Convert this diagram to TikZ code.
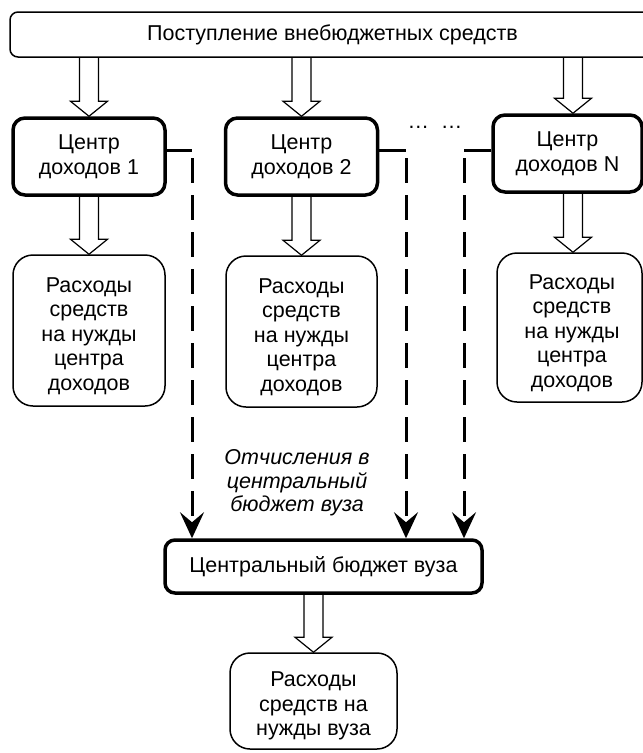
\documentclass[tikz,border=0pt]{standalone}
\usepackage{fontspec}
\setmainfont{Liberation Sans}
\usetikzlibrary{calc,arrows.meta}
\begin{document}
\begin{tikzpicture}[x=1pt,y=-1pt,
  txt/.style={font=\fontsize{21.5}{24.5}\selectfont, align=center, inner sep=0pt},
  topbox/.style={draw, line width=1.5pt, rounded corners=8pt, minimum width=645pt, minimum height=45pt, inner sep=0pt, txt},
  cbox/.style={draw, line width=3.5pt, rounded corners=12pt, minimum width=152pt, minimum height=77pt, inner sep=0pt, txt},
  ebox/.style={draw, line width=1.5pt, rounded corners=20pt, minimum width=152pt, minimum height=151pt, inner sep=0pt},
  bbox/.style={draw, line width=3.5pt, rounded corners=10pt, minimum width=317pt, minimum height=53pt, inner sep=0pt, txt},
  hollow/.style={line width=1.2pt, line join=miter, to path={
    let \p1=(\tikztostart), \p2=(\tikztotarget) in
    ({\x2-9.5pt},{\y1}) -- ({\x2-9.5pt},{\y2+15pt}) -- ({\x2-18.5pt},{\y2+15pt}) -- ({\x2},{\y2})
    -- ({\x2+18.5pt},{\y2+15pt}) -- ({\x2+9.5pt},{\y2+15pt}) -- ({\x2+9.5pt},{\y1})}},
  solidc/.style={line width=3pt},
  dashc/.style={line width=3pt, dash pattern=on 25pt off 12pt, -{Stealth[length=26pt,width=24pt,inset=10pt]}}
]
\useasboundingbox (0,0) rectangle (643,753);

% boxes
\node[topbox] (top) at (332.5,34.5) {Поступление внебюджетных средств};
\node[cbox] (c1) at (89,156.5) {Центр\\доходов 1};
\node[cbox] (c2) at (301.5,156.5) {Центр\\доходов 2};
\node[cbox, minimum width=149pt] (cN) at (567.5,153.5) {Центр\\доходов N};

\node[ebox] (e1) at (89,330.5) {};
\node[txt] (e1t) at (89,336) {Расходы\\средств\\на нужды\\центра\\доходов};
\node[ebox, minimum width=151pt] (e2) at (301.5,331.5) {};
\node[txt] (e2t) at (301.5,337) {Расходы\\средств\\на нужды\\центра\\доходов};
\node[ebox, minimum width=145pt, minimum height=149pt] (eN) at (569.5,327.5) {};
\node[txt] (eNt) at (572,333) {Расходы\\средств\\на нужды\\центра\\доходов};

\node[bbox] (cb) at (323.5,566.5) {Центральный бюджет вуза};
\node[ebox, minimum width=167pt, minimum height=96pt] (fin) at (313.5,701) {};
\node[txt] (fint) at (313.5,706) {Расходы\\средств на\\нужды вуза};

\node[txt, font=\fontsize{21.5}{23.5}\selectfont\itshape] (lbl) at (297,483) {Отчисления в\\центральный\\бюджет вуза};
\node[txt, anchor=base] (dots) at (435,128) {…\ \ …};

% hollow arrows
\coordinate (axN) at (573,0);
\draw[hollow] (top.south -| c1) to (c1.north);
\draw[hollow] (top.south -| c2) to (c2.north);
\draw[hollow] (top.south -| axN) to (cN.north -| axN);
\draw[hollow] (c1.south) to (e1.north);
\draw[hollow] (c2.south) to (e2.north);
\draw[hollow] (cN.south -| axN) to (eN.north -| axN);
\draw[hollow] (cb.south -| fin) to (fin.north);

% transfers
\coordinate (k1) at (192,150);
\coordinate (k2) at (406,150);
\coordinate (k3) at (464,150);
\draw[solidc] (c1.east |- k1) -- (k1);
\draw[solidc] (c2.east |- k2) -- (k2);
\draw[solidc] (cN.west |- k3) -- (k3);
\draw[dashc] ([yshift=-8pt]k1) -- (k1 |- cb.north);
\draw[dashc] ([yshift=-8pt]k2) -- (k2 |- cb.north);
\draw[dashc] ([yshift=-8pt]k3) -- (k3 |- cb.north);
\end{tikzpicture}
\end{document}
